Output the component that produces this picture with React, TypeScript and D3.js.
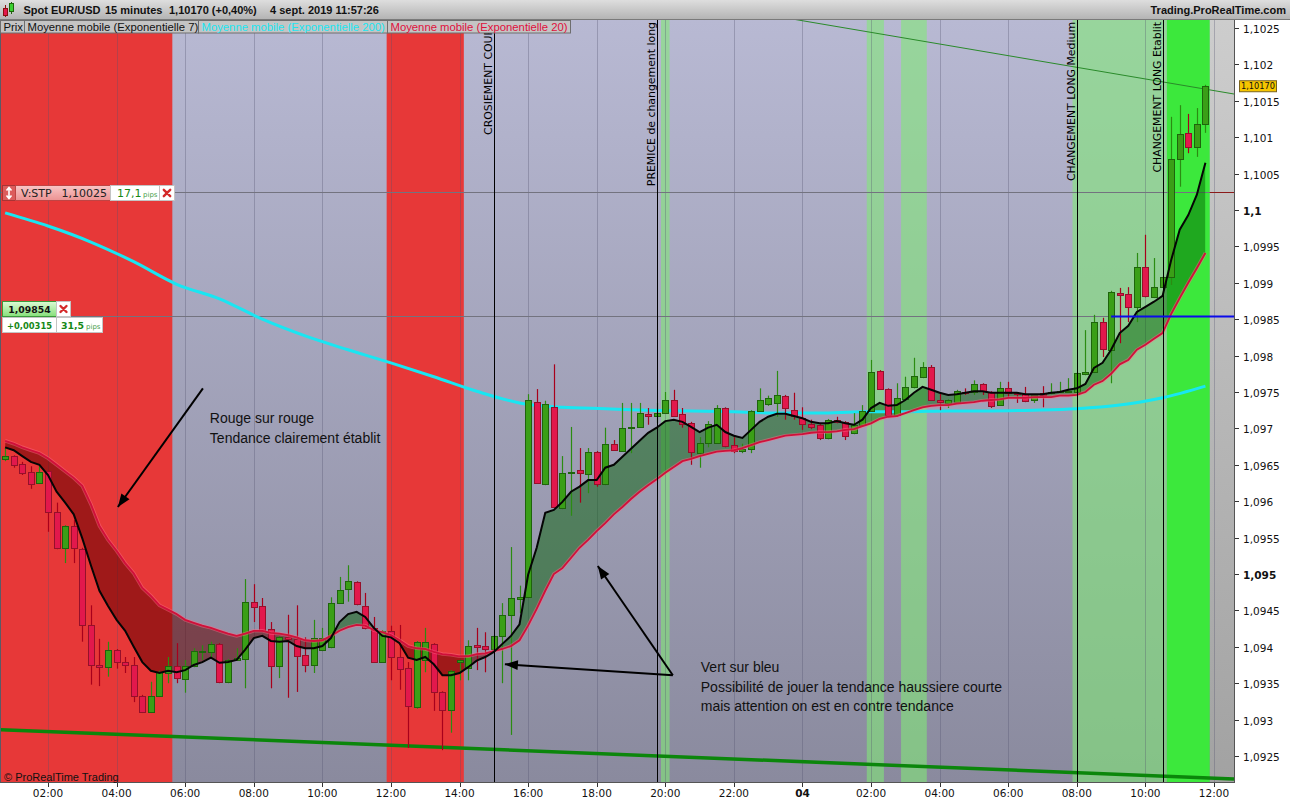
import React from 'react';
import * as d3 from 'd3';

// ---------- data: EUR/USD 15-minute candles ----------
const firstCandleUtc = Date.UTC(2019, 8, 3, 0, 45);
const candleMinutes = 15;

const open = [
  1.09658, 1.09662, 1.09651, 1.09640, 1.09625, 1.09641, 1.09585, 1.09536, 1.09566, 1.09534,
  1.09430, 1.09375, 1.09372, 1.09396, 1.09379, 1.09375, 1.09332, 1.09310, 1.09332, 1.09364,
  1.09374, 1.09356, 1.09374, 1.09393, 1.09393, 1.09404, 1.09352, 1.09382, 1.09383, 1.09462,
  1.09456, 1.09424, 1.09374, 1.09413, 1.09411, 1.09389, 1.09375, 1.09396, 1.09400, 1.09460,
  1.09479, 1.09489, 1.09456, 1.09426, 1.09379, 1.09422, 1.09386, 1.09371, 1.09317, 1.09382,
  1.09404, 1.09338, 1.09313, 1.09379, 1.09371, 1.09402, 1.09401, 1.09397, 1.09415, 1.09444,
  1.09466, 1.09468, 1.09736, 1.09624, 1.09729, 1.09591, 1.09639, 1.09643, 1.09637, 1.09668,
  1.09624, 1.09679, 1.09669, 1.09701, 1.09702, 1.09720, 1.09717, 1.09721, 1.09739, 1.09720,
  1.09707, 1.09666, 1.09680, 1.09680, 1.09728, 1.09677, 1.09669, 1.09672, 1.09724, 1.09734,
  1.09735, 1.09745, 1.09725, 1.09714, 1.09706, 1.09705, 1.09687, 1.09712, 1.09709, 1.09694,
  1.09705, 1.09724, 1.09779, 1.09754, 1.09718, 1.09740, 1.09757, 1.09771, 1.09784, 1.09739,
  1.09735, 1.09736, 1.09750, 1.09750, 1.09761, 1.09750, 1.09732, 1.09755, 1.09749, 1.09747,
  1.09739, 1.09749, 1.09749, 1.09750, 1.09750, 1.09750, 1.09775, 1.09777, 1.09846, 1.09808,
  1.09886, 1.09885, 1.09867, 1.09922, 1.09880, 1.09894, 1.09908, 1.10070, 1.10106, 1.10087,
  1.10118,
];
const high = [
  1.09673, 1.09663, 1.09654, 1.09648, 1.09648, 1.09643, 1.09598, 1.09567, 1.09574, 1.09536,
  1.09457, 1.09411, 1.09407, 1.09397, 1.09386, 1.09386, 1.09334, 1.09352, 1.09367, 1.09386,
  1.09405, 1.09382, 1.09398, 1.09402, 1.09407, 1.09405, 1.09383, 1.09398, 1.09493, 1.09486,
  1.09467, 1.09434, 1.09415, 1.09444, 1.09457, 1.09413, 1.09437, 1.09426, 1.09468, 1.09496,
  1.09512, 1.09490, 1.09474, 1.09441, 1.09423, 1.09429, 1.09430, 1.09379, 1.09408, 1.09426,
  1.09405, 1.09339, 1.09368, 1.09382, 1.09409, 1.09426, 1.09420, 1.09416, 1.09460, 1.09537,
  1.09484, 1.09747, 1.09754, 1.09738, 1.09788, 1.09662, 1.09702, 1.09673, 1.09673, 1.09669,
  1.09701, 1.09684, 1.09735, 1.09735, 1.09735, 1.09728, 1.09735, 1.09750, 1.09753, 1.09728,
  1.09709, 1.09688, 1.09710, 1.09732, 1.09729, 1.09688, 1.09679, 1.09725, 1.09755, 1.09745,
  1.09779, 1.09746, 1.09749, 1.09729, 1.09712, 1.09706, 1.09713, 1.09716, 1.09710, 1.09721,
  1.09732, 1.09794, 1.09780, 1.09755, 1.09762, 1.09771, 1.09797, 1.09791, 1.09787, 1.09750,
  1.09740, 1.09753, 1.09755, 1.09766, 1.09762, 1.09751, 1.09764, 1.09764, 1.09750, 1.09757,
  1.09747, 1.09758, 1.09762, 1.09764, 1.09769, 1.09777, 1.09835, 1.09856, 1.09852, 1.09889,
  1.09893, 1.09894, 1.09941, 1.09966, 1.09934, 1.09909, 1.10128, 1.10144, 1.10132, 1.10140,
  1.10172,
];
const low = [
  1.09655, 1.09646, 1.09636, 1.09617, 1.09624, 1.09558, 1.09534, 1.09515, 1.09515, 1.09407,
  1.09348, 1.09346, 1.09359, 1.09370, 1.09364, 1.09324, 1.09309, 1.09309, 1.09331, 1.09350,
  1.09350, 1.09337, 1.09372, 1.09382, 1.09386, 1.09350, 1.09350, 1.09381, 1.09343, 1.09434,
  1.09420, 1.09343, 1.09357, 1.09330, 1.09338, 1.09365, 1.09364, 1.09394, 1.09398, 1.09459,
  1.09462, 1.09457, 1.09424, 1.09378, 1.09378, 1.09354, 1.09341, 1.09261, 1.09315, 1.09365,
  1.09312, 1.09258, 1.09282, 1.09354, 1.09354, 1.09368, 1.09365, 1.09396, 1.09350, 1.09279,
  1.09446, 1.09467, 1.09624, 1.09622, 1.09591, 1.09589, 1.09580, 1.09598, 1.09611, 1.09620,
  1.09622, 1.09669, 1.09668, 1.09666, 1.09701, 1.09705, 1.09707, 1.09720, 1.09716, 1.09701,
  1.09650, 1.09646, 1.09674, 1.09679, 1.09674, 1.09666, 1.09666, 1.09666, 1.09723, 1.09731,
  1.09716, 1.09712, 1.09712, 1.09698, 1.09699, 1.09684, 1.09685, 1.09707, 1.09684, 1.09692,
  1.09703, 1.09723, 1.09753, 1.09716, 1.09716, 1.09739, 1.09755, 1.09769, 1.09738, 1.09725,
  1.09728, 1.09735, 1.09746, 1.09746, 1.09746, 1.09728, 1.09731, 1.09743, 1.09735, 1.09736,
  1.09735, 1.09729, 1.09747, 1.09749, 1.09749, 1.09749, 1.09773, 1.09776, 1.09798, 1.09762,
  1.09817, 1.09846, 1.09846, 1.09880, 1.09879, 1.09893, 1.09897, 1.10032, 1.10078, 1.10073,
  1.10106,
];
const close = [
  1.09662, 1.09650, 1.09639, 1.09624, 1.09640, 1.09585, 1.09536, 1.09566, 1.09536, 1.09430,
  1.09375, 1.09372, 1.09396, 1.09379, 1.09375, 1.09332, 1.09310, 1.09332, 1.09365, 1.09374,
  1.09357, 1.09374, 1.09394, 1.09394, 1.09404, 1.09352, 1.09382, 1.09385, 1.09462, 1.09455,
  1.09422, 1.09374, 1.09413, 1.09411, 1.09387, 1.09375, 1.09412, 1.09412, 1.09460, 1.09478,
  1.09490, 1.09459, 1.09426, 1.09379, 1.09422, 1.09386, 1.09370, 1.09319, 1.09407, 1.09407,
  1.09338, 1.09313, 1.09367, 1.09382, 1.09401, 1.09400, 1.09397, 1.09415, 1.09444, 1.09467,
  1.09468, 1.09739, 1.09625, 1.09734, 1.09592, 1.09639, 1.09640, 1.09639, 1.09668, 1.09624,
  1.09679, 1.09670, 1.09701, 1.09702, 1.09721, 1.09717, 1.09721, 1.09739, 1.09717, 1.09706,
  1.09668, 1.09680, 1.09706, 1.09728, 1.09676, 1.09669, 1.09672, 1.09724, 1.09739, 1.09742,
  1.09746, 1.09728, 1.09717, 1.09706, 1.09702, 1.09687, 1.09712, 1.09709, 1.09690, 1.09705,
  1.09724, 1.09777, 1.09754, 1.09718, 1.09742, 1.09757, 1.09772, 1.09784, 1.09739, 1.09736,
  1.09739, 1.09751, 1.09749, 1.09761, 1.09751, 1.09731, 1.09755, 1.09749, 1.09747, 1.09738,
  1.09746, 1.09746, 1.09750, 1.09751, 1.09751, 1.09776, 1.09777, 1.09846, 1.09809, 1.09887,
  1.09883, 1.09867, 1.09922, 1.09882, 1.09894, 1.09908, 1.10070, 1.10104, 1.10087, 1.10118,
  1.10170,
];

// exponential moving averages, one value per candle
const ema7 = [
  1.09674, 1.09670, 1.09662, 1.09654, 1.09650, 1.09636, 1.09613, 1.09598, 1.09582, 1.09549,
  1.09512, 1.09477, 1.09456, 1.09437, 1.09422, 1.09400, 1.09379, 1.09367, 1.09364, 1.09367,
  1.09365, 1.09368, 1.09375, 1.09379, 1.09385, 1.09378, 1.09379, 1.09382, 1.09396, 1.09412,
  1.09415, 1.09408, 1.09407, 1.09408, 1.09401, 1.09398, 1.09398, 1.09401, 1.09412, 1.09434,
  1.09445, 1.09448, 1.09441, 1.09426, 1.09415, 1.09413, 1.09405, 1.09385, 1.09382, 1.09386,
  1.09376, 1.09361, 1.09361, 1.09364, 1.09372, 1.09381, 1.09386, 1.09393, 1.09404, 1.09415,
  1.09431, 1.09499, 1.09536, 1.09584, 1.09588, 1.09599, 1.09613, 1.09620, 1.09629, 1.09629,
  1.09646, 1.09650, 1.09661, 1.09672, 1.09683, 1.09694, 1.09701, 1.09710, 1.09712, 1.09709,
  1.09702, 1.09695, 1.09701, 1.09705, 1.09695, 1.09690, 1.09687, 1.09698, 1.09709, 1.09716,
  1.09720, 1.09720, 1.09717, 1.09714, 1.09709, 1.09707, 1.09707, 1.09710, 1.09707, 1.09705,
  1.09712, 1.09728, 1.09735, 1.09731, 1.09732, 1.09739, 1.09749, 1.09757, 1.09753, 1.09749,
  1.09746, 1.09747, 1.09749, 1.09751, 1.09751, 1.09749, 1.09749, 1.09749, 1.09749, 1.09747,
  1.09747, 1.09747, 1.09749, 1.09750, 1.09753, 1.09755, 1.09761, 1.09783, 1.09790, 1.09808,
  1.09831, 1.09841, 1.09860, 1.09867, 1.09874, 1.09882, 1.09931, 1.09973, 1.09993, 1.10021,
  1.10065,
];
const ema20 = [
  1.09683, 1.09679, 1.09674, 1.09670, 1.09666, 1.09659, 1.09650, 1.09641, 1.09632, 1.09621,
  1.09596, 1.09566, 1.09547, 1.09532, 1.09515, 1.09501, 1.09481, 1.09470, 1.09457, 1.09451,
  1.09445, 1.09437, 1.09433, 1.09429, 1.09426, 1.09422, 1.09418, 1.09415, 1.09418, 1.09422,
  1.09422, 1.09419, 1.09418, 1.09416, 1.09413, 1.09409, 1.09408, 1.09409, 1.09415, 1.09422,
  1.09427, 1.09430, 1.09429, 1.09423, 1.09420, 1.09416, 1.09409, 1.09401, 1.09398, 1.09397,
  1.09393, 1.09390, 1.09389, 1.09387, 1.09387, 1.09390, 1.09391, 1.09394, 1.09397, 1.09401,
  1.09409, 1.09429, 1.09452, 1.09477, 1.09500, 1.09508, 1.09522, 1.09536, 1.09547, 1.09559,
  1.09570, 1.09582, 1.09592, 1.09603, 1.09613, 1.09622, 1.09630, 1.09639, 1.09647, 1.09655,
  1.09658, 1.09662, 1.09665, 1.09668, 1.09669, 1.09670, 1.09673, 1.09677, 1.09681, 1.09684,
  1.09687, 1.09690, 1.09691, 1.09692, 1.09694, 1.09695, 1.09695, 1.09696, 1.09698, 1.09699,
  1.09703, 1.09707, 1.09713, 1.09716, 1.09717, 1.09721, 1.09725, 1.09729, 1.09731, 1.09732,
  1.09732, 1.09734, 1.09735, 1.09736, 1.09738, 1.09739, 1.09740, 1.09742, 1.09742, 1.09742,
  1.09743, 1.09743, 1.09743, 1.09745, 1.09745, 1.09746, 1.09750, 1.09760, 1.09765, 1.09775,
  1.09788, 1.09794, 1.09808, 1.09815, 1.09823, 1.09831, 1.09857, 1.09879, 1.09900, 1.09920,
  1.09941,
];
// EMA 200, sampled every fifth candle
const ema200Index = [0, 5, 10, 15, 20, 25, 30, 35, 40, 45, 50, 55, 60, 65, 70, 75, 80, 85, 90, 95, 100, 105, 110, 115, 120, 125, 130, 135, 140];
const ema200 = [
  1.09996, 1.09978, 1.09956, 1.09929, 1.09898, 1.09878, 1.09850, 1.09827, 1.09808, 1.09790,
  1.09771, 1.09751, 1.09735, 1.09729, 1.09727, 1.09725, 1.09724, 1.09723, 1.09721, 1.09721,
  1.09723, 1.09723, 1.09724, 1.09724, 1.09725, 1.09727, 1.09732, 1.09742, 1.09758,
];

// axes
const timeTickStartUtc = Date.UTC(2019, 8, 3, 2, 0);
const timeTickLabels = ['02:00', '04:00', '06:00', '08:00', '10:00', '12:00', '14:00', '16:00', '18:00', '20:00', '22:00', '04', '02:00', '04:00', '06:00', '08:00', '10:00', '12:00'];
const boldTimeLabels = ['04'];
const priceTicks = [1.0925, 1.093, 1.0935, 1.094, 1.0945, 1.095, 1.0955, 1.096, 1.0965, 1.097, 1.0975, 1.098, 1.0985, 1.099, 1.0995, 1.1, 1.1005, 1.101, 1.1015, 1.102, 1.1025];
const boldPriceTicks = [1.095, 1.1];

// background zones, as candle index ranges
const redZones = [[0, 19], [45, 53]];
const lightGreenZones = [[77, 77], [101, 102], [105, 107], [125, 135]];
const brightGreenZones = [[136, 140]];

// signal markers
const signalIndex = [57, 76, 125, 135];
const signalLabels = ['CROSIEMENT COURT', 'PREMICE de changement long', 'CHANGEMENT LONG Medium', 'CHANGEMENT LONG Etablit'];

// orders and levels
const stopPrice = 1.10025;
const stopPips = '17,1';
const entryPrice = 1.09854;
const entryGain = '+0,00315';
const entryPips = '31,5';
const lastPrice = 1.1017;
const entryLineFrom = 129;
const supportIndex = [0, 140];
const supportPrice = [1.09286, 1.0922];
const resistanceIndex = [100, 140];
const resistancePrice = [1.10246, 1.10166];

// hand-drawn notes
const arrowFromIndex = [23.07, 77.88, 77.88];
const arrowFromPrice = [1.09755, 1.09361, 1.09361];
const arrowToIndex = [13.15, 69.13, 58.29];
const arrowToPrice = [1.09592, 1.09511, 1.09376];
const noteIndex = [23.88, 81.14];
const notePrice = [1.09707, 1.09365];
const noteLines = [
  ['Rouge sur rouge', 'Tendance clairement établit'],
  ['Vert sur bleu', 'Possibilité de jouer la tendance haussiere courte', 'mais attention on est en contre tendance'],
];

const legendLabels = ['Prix', 'Moyenne mobile (Exponentielle 7)', 'Moyenne mobile (Exponentielle 200)', 'Moyenne mobile (Exponentielle 20)'];
const legendColors = ['#111', '#111', '#19e6f2', '#e0103c'];

const AXIS_FONT = "'DejaVu Sans', Verdana, sans-serif";
const UI_FONT = "'Liberation Sans', Arial, sans-serif";

function Cross({ cx, cy, s = 3.2 }: { cx: number; cy: number; s?: number }) {
  return (
    <path
      d={`M${cx - s},${cy - s}L${cx + s},${cy + s}M${cx + s},${cy - s}L${cx - s},${cy + s}`}
      stroke="#d42a2a"
      strokeWidth={2.4}
      strokeLinecap="round"
    />
  );
}

export default function App() {
  const W = 1290;
  const H = 800;
  const L = 1;
  const R = 1234;
  const T = 20;
  const B = 782;

  const x = d3
    .scaleUtc()
    .domain([new Date(Date.UTC(2019, 8, 3, 2)), new Date(Date.UTC(2019, 8, 4, 12))])
    .range([48, 1214]);
  const y = d3.scaleLinear().domain([1.0925, 1.1025]).range([756, 28]);
  const cx = (i: number) => x(new Date(firstCandleUtc + i * candleMinutes * 60000));
  const idx = d3.range(close.length);
  const futureX = cx(close.length - 0.5);

  const lineOf = (arr: number[]) =>
    d3
      .line<number>()
      .x((_, i) => cx(i))
      .y((v) => y(v))(arr) as string;
  const areaOf = (arr: number[], base: number) =>
    d3
      .area<number>()
      .x((_, i) => cx(i))
      .y0(base)
      .y1((v) => y(v))(arr) as string;

  const ema200Path = d3
    .line<number>()
    .x((_, k) => cx(ema200Index[k]))
    .y((v) => y(v))
    .curve(d3.curveMonotoneX)(ema200) as string;

  const extLine = (ia: number[], pa: number[]) => {
    const x0 = cx(ia[0]);
    const x1 = cx(ia[1]);
    const y0 = y(pa[0]);
    const y1 = y(pa[1]);
    const k = (y1 - y0) / (x1 - x0);
    return { x1: L, y1: y0 + (L - x0) * k, x2: R, y2: y0 + (R - x0) * k };
  };
  const support = extLine(supportIndex, supportPrice);
  const resistance = extLine(resistanceIndex, resistancePrice);

  const timeTicks = timeTickLabels.map((label, k) => ({
    label,
    x: x(new Date(timeTickStartUtc + k * 2 * 3600000)),
  }));

  const fmtPrice = (v: number) => String(+v.toFixed(4)).replace('.', ',');
  const fmtQuote = (v: number) => v.toFixed(5).replace('.', ',');
  const yStop = y(stopPrice);
  const yEntry = y(entryPrice);

  const zoneRect = (z: number[], fill: string, key: string) => {
    const x0 = Math.max(L, cx(z[0] - 0.5));
    const x1 = cx(z[1] + 0.5);
    return <rect key={key} x={x0} y={T} width={x1 - x0} height={B - T} fill={fill} />;
  };

  const arrowHead = (xa: number, ya: number, xb: number, yb: number) => {
    const ang = Math.atan2(yb - ya, xb - xa);
    const len = 13;
    const w = 5;
    const bx = xb - len * Math.cos(ang);
    const by = yb - len * Math.sin(ang);
    const px = -Math.sin(ang) * w;
    const py = Math.cos(ang) * w;
    return `M${xb},${yb}L${bx + px},${by + py}L${bx - px},${by - py}Z`;
  };

  const legendEdges = [2, 26, 200, 389, 572];

  return (
    <svg
      width={W}
      height={H}
      viewBox={`0 0 ${W} ${H}`}
      style={{ position: 'absolute', left: 0, top: 0, display: 'block', background: '#fff' }}
    >
      <defs>
        <linearGradient id="plotBg" x1="0" y1="0" x2="0" y2="1">
          <stop offset="0" stopColor="#b8b9d3" />
          <stop offset="1" stopColor="#8a8a9e" />
        </linearGradient>
        <linearGradient id="futureBg" x1="0" y1="0" x2="0" y2="1">
          <stop offset="0" stopColor="#cdcdcd" />
          <stop offset="1" stopColor="#a2a2a2" />
        </linearGradient>
        <linearGradient id="headerBg" x1="0" y1="0" x2="0" y2="1">
          <stop offset="0" stopColor="#dedede" />
          <stop offset="1" stopColor="#b2b2b2" />
        </linearGradient>
        <linearGradient id="stopBg" x1="0" y1="0" x2="0" y2="1">
          <stop offset="0" stopColor="#f9c6c6" />
          <stop offset="1" stopColor="#ec9292" />
        </linearGradient>
        <linearGradient id="entryBg" x1="0" y1="0" x2="0" y2="1">
          <stop offset="0" stopColor="#ddfad6" />
          <stop offset="1" stopColor="#86e07a" />
        </linearGradient>
        <clipPath id="plotClip">
          <rect x={L} y={T} width={R - L} height={B - T} />
        </clipPath>
        <clipPath id="belowBlack">
          <path d={areaOf(ema7, B)} />
        </clipPath>
        <clipPath id="aboveBlack">
          <path d={areaOf(ema7, T)} />
        </clipPath>
      </defs>

      {/* plot background and zones */}
      <rect x={L} y={T} width={R - L} height={B - T} fill="url(#plotBg)" />
      <rect x={futureX} y={T} width={R - futureX} height={B - T} fill="url(#futureBg)" />
      {redZones.map((z, k) => zoneRect(z, '#e73838', `r${k}`))}
      {lightGreenZones.map((z, k) => zoneRect(z, 'rgba(130,232,120,0.6)', `g${k}`))}
      {brightGreenZones.map((z, k) => zoneRect(z, '#3ce83c', `b${k}`))}

      {/* vertical grid */}
      {timeTicks.map((t) => (
        <line
          key={`grid${t.x}`}
          x1={Math.round(t.x) + 0.5}
          x2={Math.round(t.x) + 0.5}
          y1={T}
          y2={B}
          stroke="rgba(80,80,110,0.32)"
        />
      ))}

      <g clipPath="url(#plotClip)">
        {/* order lines */}
        <line x1={L} x2={futureX} y1={Math.round(yStop) + 0.5} y2={Math.round(yStop) + 0.5} stroke="#73737f" />
        <line x1={futureX} x2={R} y1={Math.round(yStop) + 0.5} y2={Math.round(yStop) + 0.5} stroke="#8b1a1a" />
        <line x1={L} x2={R} y1={Math.round(yEntry) + 0.5} y2={Math.round(yEntry) + 0.5} stroke="#73737f" />

        {/* trend lines */}
        <line {...support} stroke="#0b860b" strokeWidth={3.5} />
        <line {...resistance} stroke="#2a8a2a" strokeWidth={1} />

        {/* area between EMA 7 and EMA 20 */}
        <path d={areaOf(ema20, T)} fill="rgba(0,95,0,0.47)" clipPath="url(#belowBlack)" />
        <path d={areaOf(ema20, B)} fill="rgba(100,0,0,0.55)" clipPath="url(#aboveBlack)" />

        {/* EMA 200 */}
        <path d={ema200Path} fill="none" stroke="#19e6f2" strokeWidth={3} />

        {/* candles */}
        {idx.map((i) => {
          const up = close[i] >= open[i];
          const xc = Math.round(cx(i)) + 0.5;
          const yt = Math.round(y(Math.max(open[i], close[i])));
          const yb = Math.round(y(Math.min(open[i], close[i])));
          return (
            <g key={`c${i}`}>
              <line
                x1={xc}
                x2={xc}
                y1={y(high[i])}
                y2={y(low[i])}
                stroke={up ? '#2b8c12' : '#a8001c'}
                strokeWidth={1.2}
              />
              <rect
                x={xc - 3}
                y={yt + 0.5}
                width={6}
                height={Math.max(1, yb - yt)}
                fill={up ? '#3a9f17' : '#e2184c'}
                stroke={up ? '#1e640c' : '#96102a'}
                strokeWidth={1}
              />
            </g>
          );
        })}

        {/* EMA 20 and EMA 7 */}
        <path d={lineOf(ema20)} fill="none" stroke="#ff6d8a" strokeOpacity={0.45} strokeWidth={3.6} />
        <path d={lineOf(ema20)} fill="none" stroke="#d0103a" strokeWidth={1.8} />
        <path d={lineOf(ema7)} fill="none" stroke="#050505" strokeWidth={2} />

        {/* signal markers */}
        {signalIndex.map((si, k) => {
          const xl = Math.round(cx(si)) + 0.5;
          return (
            <g key={`s${k}`}>
              <line x1={xl} x2={xl} y1={T} y2={B} stroke="#000" strokeWidth={1} />
              <text
                transform={`translate(${xl - 2.5},22) rotate(-90)`}
                textAnchor="end"
                fontFamily={AXIS_FONT}
                fontSize={10.9}
                fill="#000"
              >
                {signalLabels[k]}
              </text>
            </g>
          );
        })}

        {/* entry level from the crossing onward */}
        <line
          x1={cx(entryLineFrom)}
          x2={R}
          y1={Math.round(yEntry) + 0.5}
          y2={Math.round(yEntry) + 0.5}
          stroke="#0b0bea"
          strokeWidth={2}
        />

        {/* notes */}
        {arrowFromIndex.map((fi, k) => {
          const xa = cx(fi);
          const ya = y(arrowFromPrice[k]);
          const xb = cx(arrowToIndex[k]);
          const yb = y(arrowToPrice[k]);
          return (
            <g key={`a${k}`}>
              <line x1={xa} y1={ya} x2={xb} y2={yb} stroke="#000" strokeWidth={2} />
              <path d={arrowHead(xa, ya, xb, yb)} fill="#000" />
            </g>
          );
        })}
        {noteIndex.map((ni, k) => (
          <text key={`n${k}`} x={cx(ni)} y={y(notePrice[k])} fontFamily={UI_FONT} fontSize={14} fill="#111">
            {noteLines[k].map((s, j) => (
              <tspan key={j} x={cx(ni)} dy={j === 0 ? 0 : 19.3}>
                {s}
              </tspan>
            ))}
          </text>
        ))}
      </g>

      {/* stop order label */}
      <g fontFamily={AXIS_FONT} fontSize={11}>
        <rect x={2.5} y={185.5} width={13} height={15} fill="#dc5c5c" stroke="#a83434" />
        <path d="M9,188 L9,198 M6.5,190.5 L9,187.5 L11.5,190.5 M6.5,195.5 L9,198.5 L11.5,195.5" stroke="#fff" strokeWidth={1.6} fill="none" />
        <rect x={15.5} y={185.5} width={95} height={15} fill="url(#stopBg)" stroke="#c04444" />
        <text x={21} y={197} fill="#222">V:STP</text>
        <text x={107} y={197} fill="#222" textAnchor="end">{fmtQuote(stopPrice)}</text>
        <rect x={110.5} y={185.5} width={49} height={15} fill="#fff" stroke="#c4c4c4" />
        <text x={117} y={197} fill="#168816">{stopPips}</text>
        <text x={143} y={197} fill="#4aa04a" fontSize={7}>pips</text>
        <rect x={159.5} y={185.5} width={15} height={15} fill="#fff" stroke="#c4c4c4" />
        <Cross cx={167} cy={193} />
      </g>

      {/* entry order label */}
      <g fontFamily={AXIS_FONT} fontSize={10.5}>
        <rect x={2.5} y={301.5} width={54} height={15} fill="url(#entryBg)" stroke="#3a9a3a" />
        <text x={29.5} y={313} fill="#111" textAnchor="middle" fontWeight="bold" fontSize={9.3}>
          {fmtQuote(entryPrice)}
        </text>
        <rect x={56.5} y={301.5} width={14} height={15} fill="#fff" stroke="#c4c4c4" />
        <Cross cx={63.5} cy={309} s={3} />
        <rect x={2.5} y={317.5} width={54} height={15} fill="#fff" stroke="#c4c4c4" />
        <text x={29.5} y={329} fill="#168816" textAnchor="middle" fontWeight="bold" fontSize={8.4}>
          {entryGain}
        </text>
        <rect x={56.5} y={317.5} width={46} height={15} fill="#fff" stroke="#c4c4c4" />
        <text x={61} y={329} fill="#168816" fontWeight="bold" fontSize={9.4}>{entryPips}</text>
        <text x={86} y={329} fill="#4aa04a" fontSize={7}>pips</text>
      </g>

      {/* plot frame */}
      <line x1={0.5} x2={0.5} y1={T} y2={B} stroke="#5a5a66" />
      <line x1={R + 0.5} x2={R + 0.5} y1={T} y2={B + 1} stroke="#555" />
      <line x1={0} x2={R + 1} y1={B + 0.5} y2={B + 0.5} stroke="#555" />

      {/* price axis */}
      <g fontFamily={AXIS_FONT} fontSize={10.5} fill="#111">
        {priceTicks.map((v) => {
          const yy = Math.round(y(v)) + 0.5;
          const bold = boldPriceTicks.includes(v);
          return (
            <g key={`p${v}`}>
              <line x1={R + 1} x2={R + 5} y1={yy} y2={yy} stroke="#333" />
              <text x={R + 9} y={yy + 4} fontWeight={bold ? 'bold' : 'normal'}>
                {fmtPrice(v)}
              </text>
            </g>
          );
        })}
        <rect x={R + 5.5} y={y(lastPrice) - 5.5} width={37} height={11} fill="#f6c600" stroke="#7a6420" />
        <text x={R + 24} y={y(lastPrice) + 3} textAnchor="middle" fontSize={8.2} fill="#111">
          {fmtQuote(lastPrice)}
        </text>
      </g>

      {/* time axis */}
      <g fontFamily={AXIS_FONT} fontSize={10.5} fill="#111">
        {timeTicks.map((t) => (
          <g key={`t${t.x}`}>
            <line x1={Math.round(t.x) + 0.5} x2={Math.round(t.x) + 0.5} y1={B + 1} y2={B + 5} stroke="#333" />
            <text
              x={t.x}
              y={797}
              textAnchor="middle"
              fontWeight={boldTimeLabels.includes(t.label) ? 'bold' : 'normal'}
            >
              {t.label}
            </text>
          </g>
        ))}
      </g>
      <text x={4} y={781} fontFamily={UI_FONT} fontSize={11} fill="#111">
        © ProRealTime Trading
      </text>

      {/* header */}
      <rect x={0} y={0} width={W} height={T} fill="url(#headerBg)" />
      <line x1={0} x2={W} y1={T - 0.5} y2={T - 0.5} stroke="#7a7a7a" />
      <line x1={5.5} x2={5.5} y1={5} y2={17} stroke="#8a1010" />
      <rect x={3.5} y={8.5} width={4} height={7} fill="#e2184c" stroke="#8a1010" />
      <line x1={11.5} x2={11.5} y1={2} y2={14} stroke="#1e640c" />
      <rect x={9.5} y={3.5} width={4} height={8} fill="#3ad030" stroke="#1e640c" />
      <g fontFamily={UI_FONT} fontSize={11} fontWeight="bold" fill="#111">
        <text x={23.5} y={14}>Spot EUR/USD</text>
        <text x={105} y={14}>15 minutes</text>
        <text x={169} y={14}>1,10170 (+0,40%)</text>
        <text x={270} y={14}>4 sept. 2019 11:57:26</text>
        <text x={1286} y={14} textAnchor="end">Trading.ProRealTime.com</text>
      </g>

      {/* indicator legend */}
      <g fontFamily={UI_FONT} fontSize={11.3}>
        {legendLabels.map((lab, k) => (
          <g key={`l${k}`}>
            <rect
              x={legendEdges[k] - 1.5}
              y={T + 0.5}
              width={legendEdges[k + 1] - legendEdges[k]}
              height={12.5}
              fill="#c4c4c4"
              stroke="#6e6e6e"
            />
            <text x={legendEdges[k] + 1.5} y={T + 10.8} fill={legendColors[k]}>
              {lab}
            </text>
          </g>
        ))}
      </g>
    </svg>
  );
}
